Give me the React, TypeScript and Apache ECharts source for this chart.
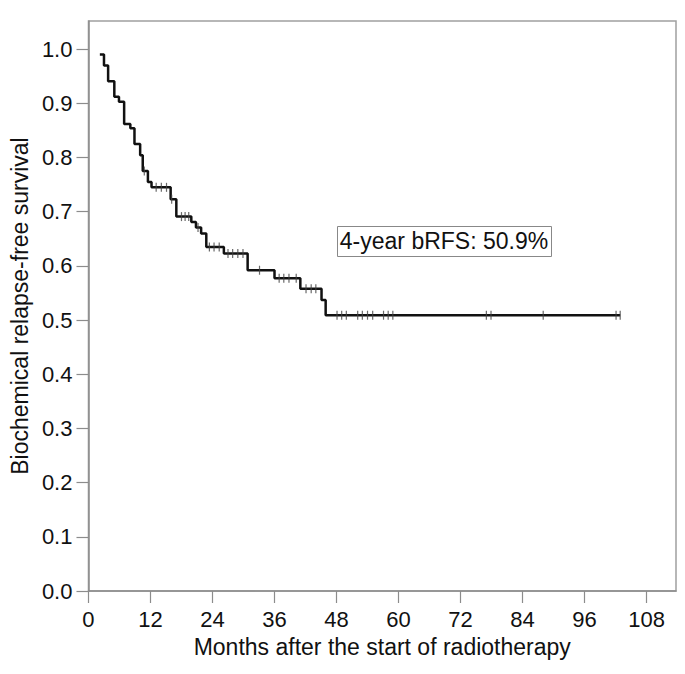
import React, { useEffect, useRef } from "react";
import * as echarts from "echarts";

// Kaplan-Meier step data: event times (months) and survival after each drop
const eventTimes = [2.2, 3.0, 3.8, 5.0, 5.9, 6.9, 8.1, 8.9, 10.0, 10.5, 11.5, 12.2, 15.9, 17.0, 19.9, 20.8, 21.8, 22.8, 26.2, 30.8, 36.0, 41.0, 45.1, 45.9];
const survival = [0.99, 0.97, 0.941, 0.912, 0.903, 0.862, 0.854, 0.825, 0.804, 0.775, 0.755, 0.745, 0.723, 0.691, 0.681, 0.671, 0.66, 0.635, 0.623, 0.592, 0.577, 0.558, 0.537, 0.509];
// censored observations (months)
const censorTimes = [10.8, 13.1, 14.1, 15.1, 16.1, 18.0, 18.7, 19.4, 21.2, 23.4, 24.3, 25.3, 27.0, 27.9, 28.9, 29.9, 33.1, 36.9, 37.8, 38.8, 40.2, 42.1, 43.1, 44.0, 48.1, 49.0, 49.9, 52.1, 53.0, 54.0, 55.0, 57.1, 58.0, 58.9, 77.0, 77.9, 88.0, 102.1, 102.9];

const xTicks = [0, 12, 24, 36, 48, 60, 72, 84, 96, 108];
const yTicks = [0, 0.1, 0.2, 0.3, 0.4, 0.5, 0.6, 0.7, 0.8, 0.9, 1.0];
const annotation = "4-year bRFS: 50.9%";

function levelAt(t: number): number {
  let s = survival[0];
  for (let i = 0; i < eventTimes.length; i++) {
    if (eventTimes[i] <= t) s = survival[i];
  }
  return s;
}

export default function App() {
  const ref = useRef<HTMLDivElement>(null);
  useEffect(() => {
    if (!ref.current) return;
    const chart = echarts.init(ref.current, undefined, { renderer: "svg" });
    const stepData: number[][] = eventTimes.map((t, i) => [t, survival[i]]);
    const lastT = Math.max(...censorTimes);
    stepData.push([lastT, survival[survival.length - 1]]);
    const censorData = censorTimes.map((t) => [t, levelAt(t)]);
    const font = "Liberation Sans, Arial, sans-serif";
    const axisGray = "#8c8c8c";
    chart.setOption({
      animation: false,
      backgroundColor: "#ffffff",
      grid: {
        left: 87,
        right: 9,
        top: 21,
        bottom: 83,
        show: true,
        borderColor: "#a0a0a0",
        borderWidth: 1.5,
        containLabel: false,
      },
      xAxis: {
        type: "value",
        min: 0,
        max: 113.7,
        name: "Months after the start of radiotherapy",
        nameLocation: "middle",
        nameGap: 44,
        nameTextStyle: { fontFamily: font, fontSize: 23, color: "#111" },
        axisLine: { show: true, lineStyle: { color: axisGray, width: 1.5 } },
        axisTick: { show: true, length: 12, customValues: xTicks, lineStyle: { color: axisGray, width: 1.2 } },
        axisLabel: { customValues: xTicks, margin: 17, fontFamily: font, fontSize: 22, color: "#111" },
        splitLine: { show: false },
      },
      yAxis: {
        type: "value",
        min: 0,
        max: 1.052,
        name: "Biochemical relapse-free survival",
        nameLocation: "middle",
        nameGap: 57,
        nameTextStyle: { fontFamily: font, fontSize: 23, color: "#111" },
        axisLine: { show: true, lineStyle: { color: axisGray, width: 1.5 } },
        axisTick: { show: true, length: 12, customValues: yTicks, lineStyle: { color: axisGray, width: 1.2 } },
        axisLabel: {
          customValues: yTicks,
          margin: 16,
          fontFamily: font,
          fontSize: 22,
          color: "#111",
          formatter: (v: number) => v.toFixed(1),
        },
        splitLine: { show: false },
      },
      series: [
        {
          type: "line",
          step: "end",
          data: stepData,
          showSymbol: false,
          symbol: "none",
          lineStyle: { color: "#111", width: 2.5 },
          z: 3,
        },
        {
          type: "scatter",
          data: censorData,
          symbol: "rect",
          symbolSize: [1.2, 9],
          itemStyle: { color: "#444" },
          z: 4,
        },
      ],
      graphic: [
        {
          type: "rect",
          left: 337,
          top: 226,
          shape: { x: 0, y: 0, width: 214, height: 30 },
          style: { fill: "#fff", stroke: "#888", lineWidth: 1 },
          z: 10,
        },
        {
          type: "text",
          x: 444,
          y: 241,
          style: {
            text: annotation,
            fontFamily: font,
            fontSize: 23,
            fill: "#111",
            align: "center",
            verticalAlign: "middle",
          },
          z: 11,
        },
      ],
    });
    return () => chart.dispose();
  }, []);
  return (
    <div
      ref={ref}
      style={{ position: "fixed", left: 0, top: 0, width: 685, height: 674, background: "#fff" }}
    />
  );
}
